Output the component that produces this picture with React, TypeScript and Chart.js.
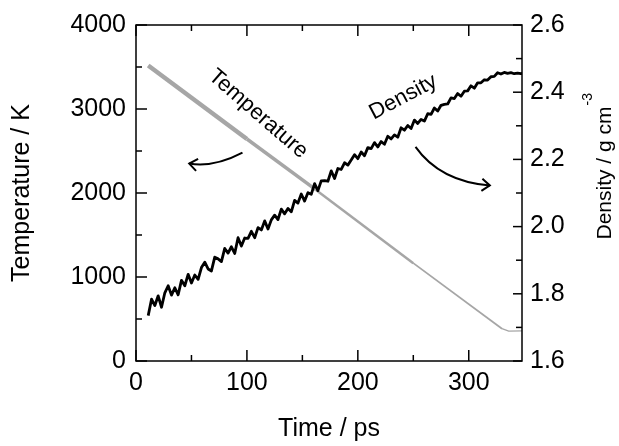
import React, { useEffect, useRef } from "react";
import { Chart, registerables } from "chart.js";

Chart.register(...registerables);

// ---- tick labels ----
const timeTicks = [0, 100, 200, 300];
const timeMinorTicks = [50, 150, 250];
const tempTicks = [0, 1000, 2000, 3000, 4000];
const tempMinorTicks = [500, 1500, 2500, 3500];
const densTicks = [1.6, 1.8, 2.0, 2.2, 2.4, 2.6];
const densMinorTicks = [1.7, 1.9, 2.1, 2.3, 2.5];

// ---- temperature series (ps, K) ----
const tempTime = [11, 100, 162, 250, 330, 336, 348];
const tempValues = [3518, 2643, 2040, 1165, 385, 355, 358];

// ---- density series (ps, g cm^-3) ----
const densTime = [
  11, 14, 17, 20, 23, 26, 29, 32, 35, 38,
  41, 44, 47, 50, 53, 56, 59, 62, 65, 68,
  71, 74, 77, 80, 83, 86, 89, 92, 95, 98,
  101, 104, 107, 110, 113, 116, 119, 122, 125, 128,
  131, 134, 137, 140, 143, 146, 149, 152, 155, 158,
  161, 164, 167, 170, 173, 176, 179, 182, 185, 188,
  191, 194, 197, 200, 203, 206, 209, 212, 215, 218,
  221, 224, 227, 230, 233, 236, 239, 242, 245, 248,
  251, 254, 257, 260, 263, 266, 269, 272, 275, 278,
  281, 284, 287, 290, 293, 296, 299, 302, 305, 308,
  311, 314, 317, 320, 323, 326, 329, 332, 335, 338,
  341, 344, 347, 350,
];
const densValues = [
  1.735, 1.784, 1.765, 1.794, 1.760, 1.803, 1.824, 1.796, 1.818, 1.797,
  1.840, 1.824, 1.858, 1.832, 1.856, 1.843, 1.878, 1.894, 1.874, 1.868,
  1.909, 1.904, 1.896, 1.935, 1.921, 1.940, 1.920, 1.967, 1.942, 1.966,
  1.965, 1.986, 1.967, 1.997, 1.990, 2.017, 1.993, 2.020, 2.034, 2.021,
  2.052, 2.038, 2.054, 2.044, 2.078, 2.070, 2.097, 2.076, 2.101, 2.096,
  2.128, 2.107, 2.136, 2.137, 2.135, 2.166, 2.143, 2.173, 2.170, 2.190,
  2.183, 2.198, 2.214, 2.202, 2.222, 2.211, 2.235, 2.232, 2.250, 2.237,
  2.253, 2.245, 2.269, 2.261, 2.273, 2.266, 2.294, 2.287, 2.301, 2.292,
  2.317, 2.307, 2.319, 2.314, 2.336, 2.334, 2.353, 2.344, 2.361, 2.364,
  2.365, 2.383, 2.381, 2.396, 2.388, 2.403, 2.404, 2.419, 2.412, 2.428,
  2.428, 2.437, 2.436, 2.446, 2.447, 2.458, 2.454, 2.459, 2.456, 2.458,
  2.455, 2.457, 2.455, 2.457,
];

// ---- annotations (data coordinates: time, temperature axis) ----
const textLabels = [
  { text: "Temperature", t: 110, v: 2940, angle: 41 },
  { text: "Density", t: 241, v: 3140, angle: -28 },
];
const arrowCurves = [
  [[96, 2480], [70, 2300], [48, 2350]],
  [[252, 2550], [274, 2140], [319, 2090]],
];

const FONT = "'Liberation Sans', Arial, Helvetica, sans-serif";
const tempWidths = [4.5, 3.5, 2.5, 1.8, 1.3, 1.3];

const decorPlugin = {
  id: "decor",
  afterDatasetsDraw(chart: any) {
    const { ctx, chartArea: a, scales } = chart;
    const sx = scales.x, sy = scales.y, sy1 = scales.y1;
    ctx.save();
    ctx.strokeStyle = "#000";
    ctx.fillStyle = "#000";
    ctx.lineWidth = 1.5;
    ctx.lineCap = "butt";
    ctx.strokeRect(a.left, a.top, a.right - a.left, a.bottom - a.top);
    const line = (x1: number, y1: number, x2: number, y2: number) => {
      ctx.beginPath();
      ctx.moveTo(x1, y1);
      ctx.lineTo(x2, y2);
      ctx.stroke();
    };
    const MAJ = 11, MIN = 6;
    timeTicks.forEach((v) => {
      const p = sx.getPixelForValue(v);
      line(p, a.bottom, p, a.bottom - MAJ);
      line(p, a.top, p, a.top + MAJ);
    });
    timeMinorTicks.forEach((v) => {
      const p = sx.getPixelForValue(v);
      line(p, a.bottom, p, a.bottom - MIN);
      line(p, a.top, p, a.top + MIN);
    });
    tempTicks.forEach((v) => {
      const p = sy.getPixelForValue(v);
      line(a.left, p, a.left + MAJ, p);
    });
    tempMinorTicks.forEach((v) => {
      const p = sy.getPixelForValue(v);
      line(a.left, p, a.left + MIN, p);
    });
    densTicks.forEach((v) => {
      const p = sy1.getPixelForValue(v);
      line(a.right, p, a.right - 9, p);
    });
    densMinorTicks.forEach((v) => {
      const p = sy1.getPixelForValue(v);
      line(a.right, p, a.right - MIN, p);
    });

    // annotation texts
    ctx.font = `22px ${FONT}`;
    ctx.textAlign = "center";
    ctx.textBaseline = "middle";
    textLabels.forEach((l) => {
      ctx.save();
      ctx.translate(sx.getPixelForValue(l.t), sy.getPixelForValue(l.v));
      ctx.rotate((l.angle * Math.PI) / 180);
      ctx.fillText(l.text, 0, 0);
      ctx.restore();
    });

    // arrows
    ctx.lineWidth = 2;
    arrowCurves.forEach((c) => {
      const p = c.map(([t, v]) => ({ x: sx.getPixelForValue(t), y: sy.getPixelForValue(v) }));
      ctx.beginPath();
      ctx.moveTo(p[0].x, p[0].y);
      ctx.quadraticCurveTo(p[1].x, p[1].y, p[2].x, p[2].y);
      ctx.stroke();
      const ang = Math.atan2(p[2].y - p[1].y, p[2].x - p[1].x);
      const L = 10, W = 0.65;
      ctx.beginPath();
      ctx.moveTo(p[2].x - L * Math.cos(ang - W), p[2].y - L * Math.sin(ang - W));
      ctx.lineTo(p[2].x, p[2].y);
      ctx.lineTo(p[2].x - L * Math.cos(ang + W), p[2].y - L * Math.sin(ang + W));
      ctx.stroke();
    });

    // right axis title with superscript
    ctx.save();
    ctx.translate(a.right + 83, (a.top + a.bottom) / 2 - 20);
    ctx.rotate(-Math.PI / 2);
    ctx.font = `21px ${FONT}`;
    ctx.textAlign = "center";
    ctx.textBaseline = "middle";
    const main = "Density / g cm";
    const w = ctx.measureText(main).width;
    ctx.fillText(main, 0, 0);
    ctx.font = `14px ${FONT}`;
    ctx.textAlign = "left";
    ctx.fillText("-3", w / 2 + 1, -17);
    ctx.restore();

    ctx.restore();
  },
};

export default function App() {
  const ref = useRef<HTMLCanvasElement | null>(null);
  useEffect(() => {
    if (!ref.current) return;
    Chart.defaults.font.family = FONT;
    Chart.defaults.color = "#000";
    const chart = new Chart(ref.current, {
      type: "line",
      data: {
        datasets: [
          {
            label: "Density",
            data: densTime.map((t, i) => ({ x: t, y: densValues[i] })),
            yAxisID: "y1",
            borderColor: "#000",
            borderWidth: 2.8,
            borderJoinStyle: "round",
            pointRadius: 0,
            tension: 0,
          },
          {
            label: "Temperature",
            data: tempTime.map((t, i) => ({ x: t, y: tempValues[i] })),
            yAxisID: "y",
            borderColor: "#a6a6a6",
            borderWidth: 3,
            pointRadius: 0,
            tension: 0,
            segment: {
              borderWidth: (c: any) => tempWidths[c.p0DataIndex] ?? 1.3,
            },
          },
        ],
      },
      options: {
        responsive: false,
        animation: false,
        layout: { padding: { top: 22, left: 0, right: 0, bottom: 0 } },
        plugins: { legend: { display: false }, tooltip: { enabled: false } },
        scales: {
          x: {
            type: "linear",
            min: 0,
            max: 348,
            afterBuildTicks: (s: any) => {
              s.ticks = timeTicks.map((v) => ({ value: v }));
            },
            afterFit: (s: any) => {
              s.height = 85;
            },
            grid: { display: false, drawTicks: false },
            border: { display: false },
            ticks: { font: { size: 25 }, color: "#000", padding: 7, maxRotation: 0, callback: (v: any) => String(v) },
            title: { display: true, text: "Time / ps", font: { size: 25 }, color: "#000", padding: { top: 0, bottom: 1.5 } },
          },
          y: {
            type: "linear",
            position: "left",
            min: 0,
            max: 4000,
            afterBuildTicks: (s: any) => {
              s.ticks = tempTicks.map((v) => ({ value: v }));
            },
            afterFit: (s: any) => {
              s.width = 136;
            },
            grid: { display: false, drawTicks: false },
            border: { display: false },
            ticks: { font: { size: 25 }, color: "#000", padding: 10, callback: (v: any) => String(v) },
            title: { display: true, text: "Temperature / K", font: { size: 25 }, color: "#000", padding: { top: 7, bottom: 0 } },
          },
          y1: {
            type: "linear",
            position: "right",
            min: 1.6,
            max: 2.6,
            afterBuildTicks: (s: any) => {
              s.ticks = densTicks.map((v) => ({ value: v }));
            },
            afterFit: (s: any) => {
              s.width = 97;
            },
            grid: { display: false, drawTicks: false },
            border: { display: false },
            ticks: { font: { size: 25 }, color: "#000", padding: 8, callback: (v: any) => Number(v).toFixed(1) },
          },
        },
      },
      plugins: [decorPlugin],
    });
    return () => chart.destroy();
  }, []);
  return (
    <div style={{ position: "absolute", left: 0, top: 0, width: 619, height: 446, background: "#fff" }}>
      <canvas ref={ref} width={619} height={446} style={{ display: "block" }} />
    </div>
  );
}
